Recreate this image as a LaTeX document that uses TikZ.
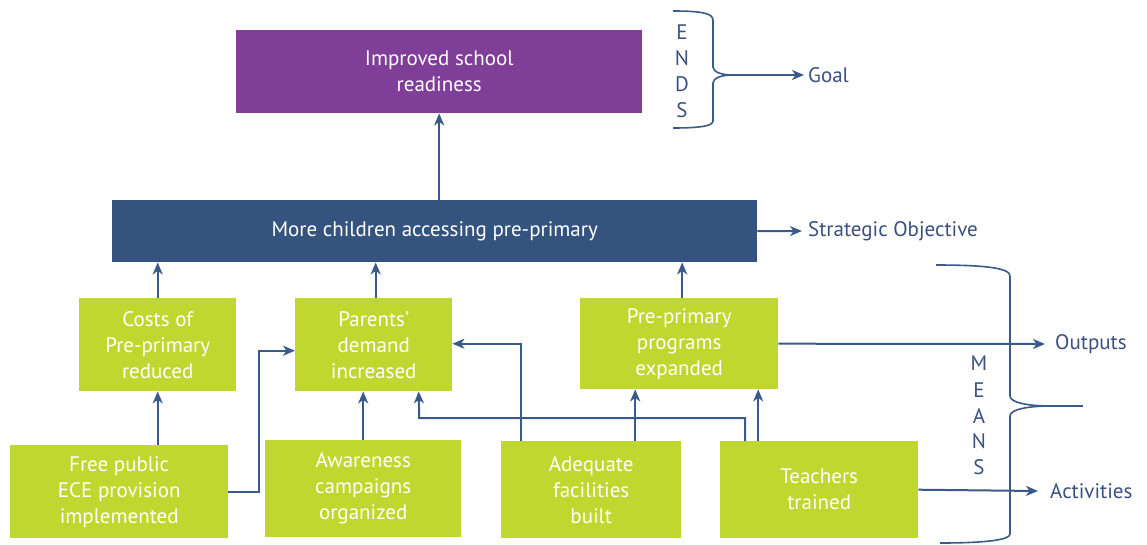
\documentclass[tikz,border=0pt]{standalone}
\usepackage{fontspec}
\setmainfont{PT Sans}
\usetikzlibrary{arrows.meta,calc}
\definecolor{purp}{HTML}{7F3F98}
\definecolor{navy}{HTML}{35537F}
\definecolor{lime}{HTML}{C0D72F}
\definecolor{lnc}{HTML}{3A5A8C}
\definecolor{txc}{HTML}{3A5080}
\begin{document}
\begin{tikzpicture}[x=1pt,y=-1pt,
  font=\fontsize{21}{26}\selectfont,
  boxbase/.style={anchor=north west, inner sep=0pt, text=white, align=center},
  gbox/.style={boxbase, fill=lime},
  arr/.style={draw=lnc, line width=2pt, -{Stealth[length=12pt,width=10pt,inset=3.5pt]}},
  ln/.style={draw=lnc, line width=2pt},
  lab/.style={anchor=west, inner sep=0pt, text=txc},
  letter/.style={inner sep=0pt, text=txc}]
\useasboundingbox (0,0) rectangle (1147,544);

% boxes
\node[boxbase, fill=purp, minimum width=406pt, minimum height=83pt] (goalbox) at (236,30) {Improved school\\readiness};
\node[boxbase, fill=navy, minimum width=645pt, minimum height=62pt] (so) at (112,200) {More children accessing pre-primary};
\node[gbox, minimum width=157pt, minimum height=93pt] (costs) at (79,298) {Costs of\\Pre-primary\\reduced};
\node[gbox, minimum width=157pt, minimum height=93pt] (parents) at (295,298) {Parents'\\demand\\increased};
\node[gbox, minimum width=198pt, minimum height=91pt] (prog) at (580,298) {Pre-primary\\programs\\expanded};
\node[gbox, minimum width=218pt, minimum height=93pt] (free) at (10,445) {Free public\\ECE provision\\implemented};
\node[gbox, minimum width=196pt, minimum height=97pt] (aware) at (265,440) {Awareness\\campaigns\\organized};
\node[gbox, minimum width=180pt, minimum height=97pt] (adeq) at (501,441) {Adequate\\facilities\\built};
\node[gbox, minimum width=198pt, minimum height=97pt] (teach) at (720,441) {Teachers\\trained};

% labels
\node[lab] (goal) at (808,75) {Goal};
\node[lab] (strat) at (808,231) {Strategic Objective};
\node[lab] (outputs) at (1055,344) {Outputs};
\node[lab] (activ) at (1050,491) {Activities};

% ENDS letters
\node[letter] (e1) at (682,32) {E};
\node[letter] (e2) at (682,58) {N};
\node[letter] (e3) at (682,84) {D};
\node[letter] (e4) at (682,110) {S};
% MEANS letters
\node[letter] (m1) at (979,363) {M};
\node[letter] (m2) at (979,390) {E};
\node[letter] (m3) at (979,416) {A};
\node[letter] (m4) at (979,441) {N};
\node[letter] (m5) at (979,467) {S};

% braces
\draw[ln, line width=1.6pt] (673,11) .. controls (700,11) and (713,13) .. (713,20) -- (713,67)
  .. controls (713,72) and (722,75) .. (732,75)
  .. controls (722,75) and (713,78) .. (713,83) -- (713,121)
  .. controls (713,126) and (700,128) .. (673,128);
\coordinate (endstip) at (732,75);
\draw[arr] (endstip) -- ([xshift=-4pt]goal.west);

\draw[ln, line width=1.6pt] (936,265) .. controls (985,265) and (1010,268) .. (1010,276) -- (1010,396)
  .. controls (1010,403) and (1030,406) .. (1050,406)
  .. controls (1030,406) and (1010,409) .. (1010,416) -- (1010,534)
  .. controls (1010,540) and (985,543) .. (940,543);
\coordinate (meanstip) at (1050,406);
\coordinate (meansend) at (1083,406);
\draw[ln, line width=1.6pt] (meanstip) -- (meansend);

% vertical connectors
\draw[arr] (goalbox.south |- so.north) -- (goalbox.south);
\draw[arr] (so.east) -- ([xshift=-6pt]strat.west);
\draw[arr] (costs.north) -- (costs.north |- so.south);
\draw[arr] ([xshift=2pt]parents.north) -- ([xshift=2pt]parents.north |- so.south);
\draw[arr] ([xshift=3pt]prog.north) -- ([xshift=3pt]prog.north |- so.south);
\draw[arr] (costs.south |- free.north) -- (costs.south);
\draw[arr] (free.east) -- ++(31,0) |- ([yshift=-6pt]parents.west);
\draw[arr] (aware.north) -- (aware.north |- parents.south);
\draw[arr] ([xshift=-70pt]adeq.north) |- ([yshift=1pt]parents.east);
\draw[arr] ([xshift=-74pt]teach.north) |- ++(-326,-23) -- ([xshift=45pt]parents.south);
\draw[arr] ([xshift=44pt]adeq.north) -- ([xshift=44pt]adeq.north |- prog.south);
\draw[arr] ([xshift=-61pt]teach.north) -- ([xshift=-61pt]teach.north |- prog.south);
\draw[arr] (prog.east) -- ([xshift=-10pt]outputs.west);
\draw[arr] (teach.east) -- ([xshift=-12pt]activ.west);
\end{tikzpicture}
\end{document}
